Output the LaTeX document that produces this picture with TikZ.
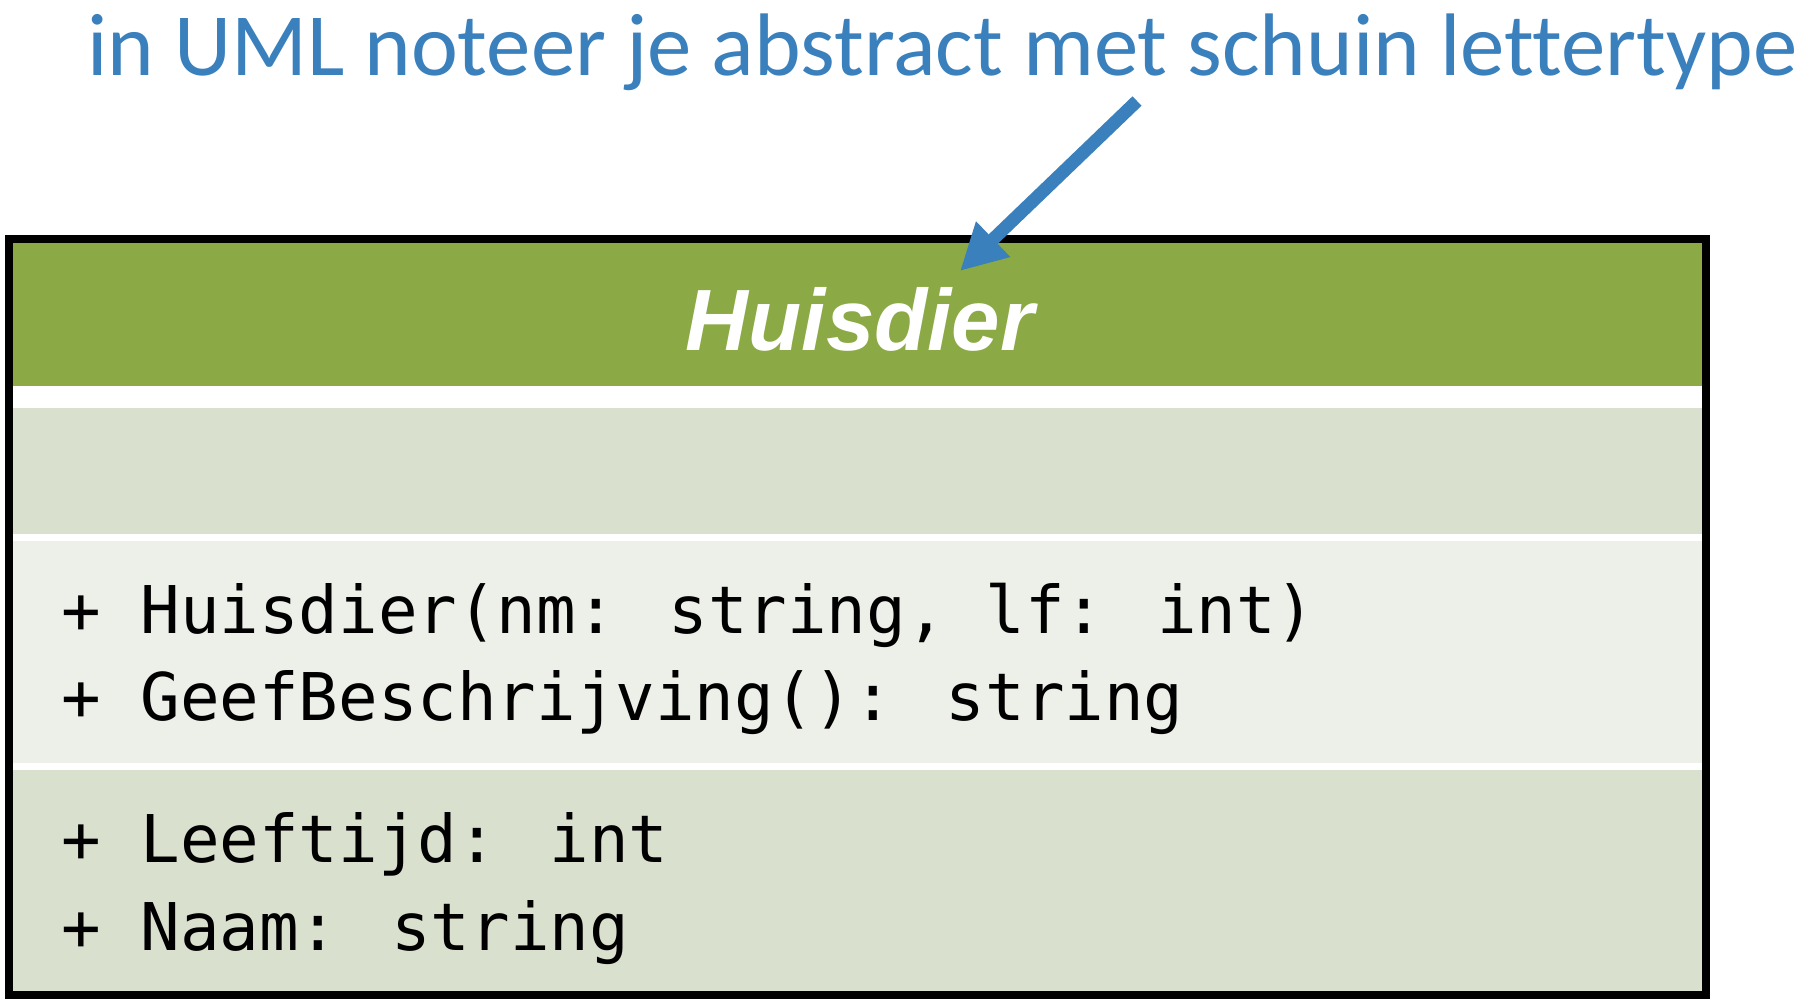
\documentclass[tikz,border=0pt]{standalone}
\usepackage{fontspec}
\usetikzlibrary{arrows.meta}
\newfontfamily\titlefont[Ligatures=NoCommon]{Carlito}
\newfontfamily\headfont{Liberation Sans}
\newfontfamily\codefont{DejaVu Sans Mono}
\definecolor{umlgreen}{RGB}{139,170,69}
\definecolor{umllight}{RGB}{218,224,206}
\definecolor{umlpale}{RGB}{237,240,233}
\definecolor{noteblue}{RGB}{58,128,188}
\tikzset{
  codeline/.style={anchor=base west, inner sep=0pt, font=\codefont\fontsize{65.8}{80}\selectfont, text=black},
}
\begin{document}
\begin{tikzpicture}[x=1pt,y=-1pt]
\useasboundingbox[fill=white] (0,0) rectangle (1808,1007);
% class box background (white gaps)
\fill[white] (12.5,242.5) rectangle (1702,991);
% sections
\fill[umlgreen] (12.5,242.5) rectangle (1702,386);
\fill[umllight] (12.5,408) rectangle (1702,534);
\fill[umlpale] (12.5,541) rectangle (1702,763);
\fill[umllight] (12.5,770) rectangle (1702,991);
% outer border
\draw[line width=7.5pt] (8.75,238.75) rectangle (1705.75,994.75);
% header text
\node[anchor=base, inner sep=0pt, text=white, font=\headfont\bfseries\itshape\fontsize{87}{100}\selectfont] (title) at (860,350) {Huisdier};
% methods
\node[codeline] (m1) at (61,633) {+ Huisdier(nm: string, lf: int)};
\node[codeline] (m2) at (61,720) {+ GeefBeschrijving(): string};
% properties
\node[codeline] (p1) at (61,862.7) {+ Leeftijd: int};
\node[codeline] (p2) at (61,950) {+ Naam: string};
% note
\node[anchor=base west, inner sep=0pt, text=noteblue, font=\titlefont\fontsize{88.8}{100}\selectfont] (note) at (87,75) {in UML noteer je abstract met schuin lettertype};
\coordinate (arrowstart) at (1137,101);
\coordinate (arrowtip) at (960,271);
\draw[noteblue, line width=13pt, -{Triangle[width=46pt,length=46pt]}] (arrowstart) -- (arrowtip);
\end{tikzpicture}
\end{document}
